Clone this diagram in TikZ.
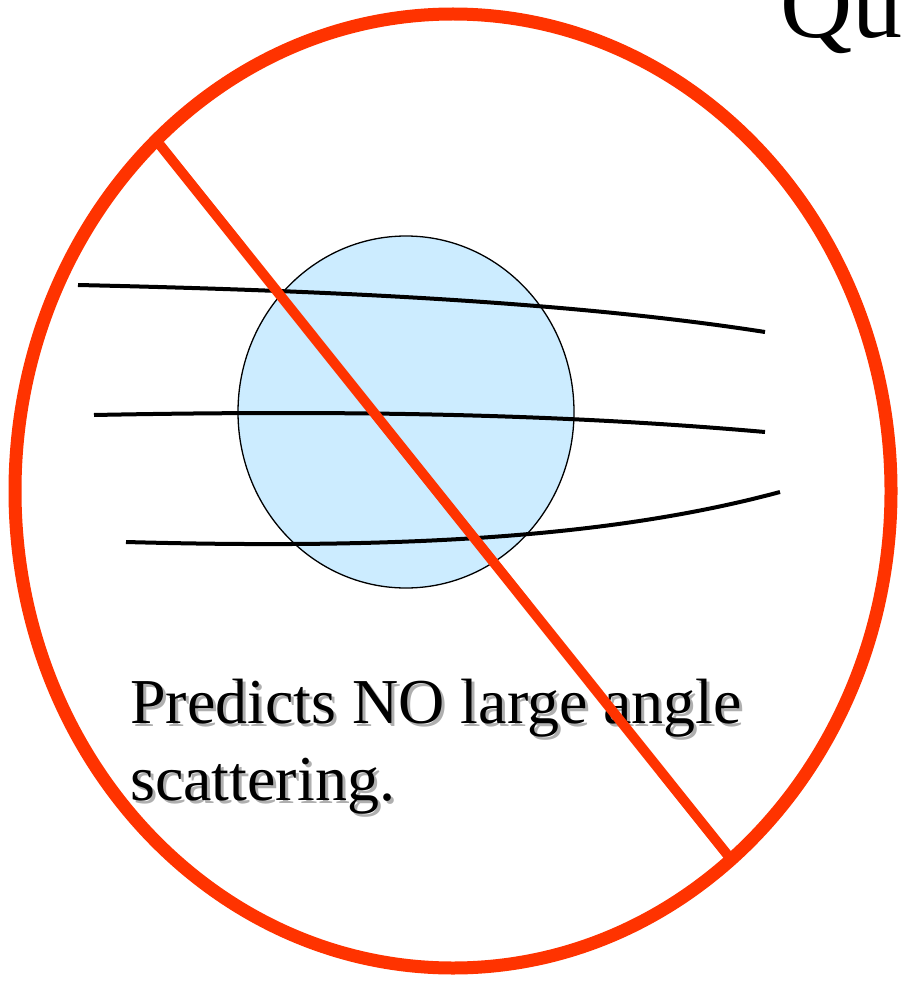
\documentclass[tikz,border=0pt]{standalone}
\usepackage{fontspec}
\setmainfont{Liberation Serif}
\definecolor{ringred}{RGB}{255,51,0}
\definecolor{nucblue}{RGB}{204,236,255}
\definecolor{shadowgray}{RGB}{175,175,175}
\begin{document}
\begin{tikzpicture}[x=1pt,y=-1pt,
  track/.style={draw=black,line width=4pt},
  ringline/.style={draw=ringred,line width=13pt},
  slashline/.style={draw=ringred,line width=10pt},
  label/.style={inner sep=0pt,anchor=base west,font=\fontsize{64}{77}\selectfont},
  title/.style={inner sep=0pt,anchor=base west,font=\fontsize{100}{110}\selectfont}]
\useasboundingbox (0,0) rectangle (900,981);
\fill[white] (0,0) rectangle (900,981);
% title fragment
\node[title] (title) at (780,38) {Qu};
% nucleus sphere
\draw[fill=nucblue,draw=black,line width=1.3pt] (406,412) ellipse [x radius=168, y radius=176];
% trajectories
\draw[track] (78,285) .. controls (300,290) and (560,300) .. (765,332);
\draw[track] (94,415) .. controls (350,410) and (560,414) .. (765,432);
\draw[track] (126,542) .. controls (420,550) and (620,535) .. (780,492);
% text with shadow
\node[label,text=shadowgray] (labelAshadow) at (133,726) {Predicts NO large angle};
\node[label,text=shadowgray] (labelBshadow) at (133,803) {scattering.};
\node[label,text=black] (labelA) at (130,723) {Predicts NO large angle};
\node[label,text=black] (labelB) at (130,800) {scattering.};
% prohibition sign
\draw[slashline] (160,145) -- (730,858);
\draw[ringline] (453,491) ellipse [x radius=438, y radius=477];
\end{tikzpicture}
\end{document}
